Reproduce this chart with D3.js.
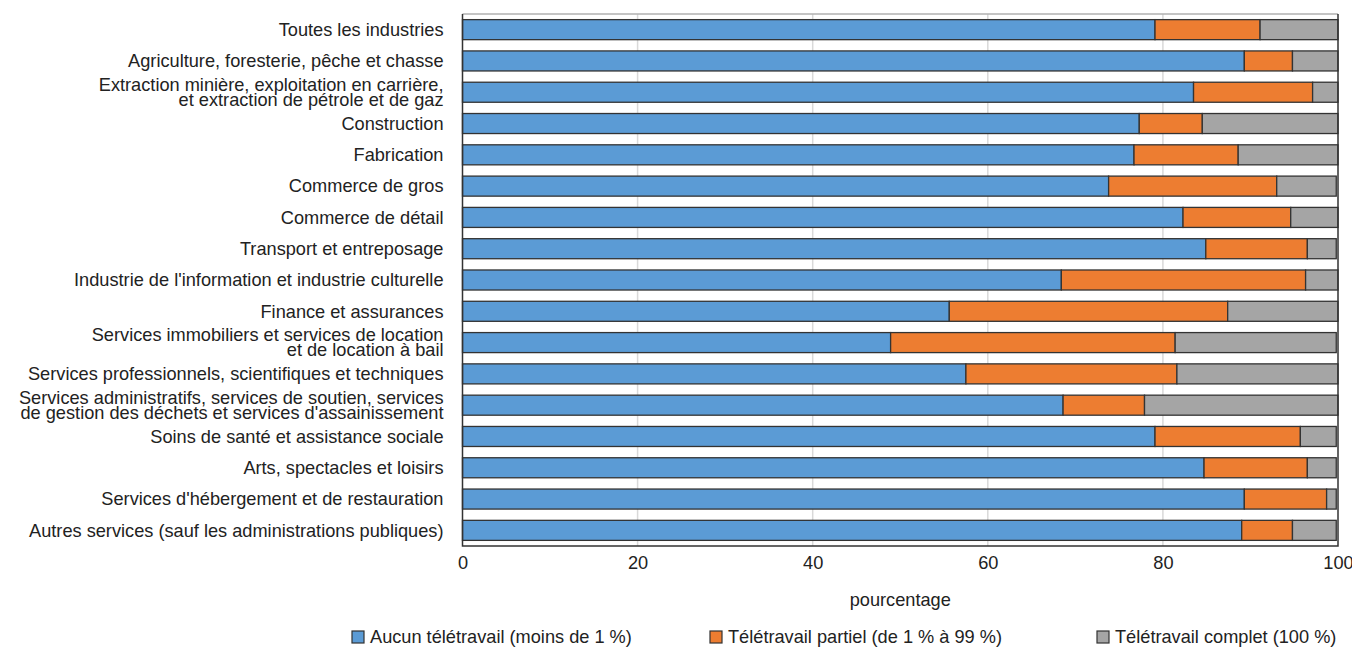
<!DOCTYPE html>
<html>
<head>
<meta charset="utf-8">
<script src="https://cdn.jsdelivr.net/npm/d3@7/dist/d3.min.js"></script>
<style>
  html, body { margin: 0; padding: 0; background: #fff; }
  svg { display: block; }
  text { font-family: "Liberation Sans Narrow", "Arial Narrow", "Liberation Sans", sans-serif; fill: #222; }
</style>
</head>
<body>
<svg id="chart" width="1352" height="648"></svg>
<script>
// ---- Data ----
const categories = [
  "Toutes les industries",
  "Agriculture, foresterie, pêche et chasse",
  "Extraction minière, exploitation en carrière,\net extraction de pétrole et de gaz",
  "Construction",
  "Fabrication",
  "Commerce de gros",
  "Commerce de détail",
  "Transport et entreposage",
  "Industrie de l'information et industrie culturelle",
  "Finance et assurances",
  "Services immobiliers et services de location\net de location à bail",
  "Services professionnels, scientifiques et techniques",
  "Services administratifs, services de soutien, services\nde gestion des déchets et services d'assainissement",
  "Soins de santé et assistance sociale",
  "Arts, spectacles et loisirs",
  "Services d'hébergement et de restauration",
  "Autres services (sauf les administrations publiques)"
];
const aucun   = [79.1, 89.3, 83.5, 77.3, 76.7, 73.8, 82.3, 84.9, 68.4, 55.6, 48.9, 57.5, 68.6, 79.1, 84.7, 89.3, 89.0];
const partiel = [12.0,  5.5, 13.6,  7.2, 11.9, 19.2, 12.3, 11.6, 27.9, 31.8, 32.5, 24.1,  9.3, 16.6, 11.8,  9.4,  5.8];
const complet = [ 8.9,  5.2,  2.9, 15.5, 11.4,  6.8,  5.4,  3.3,  3.7, 12.6, 18.4, 18.4, 22.1,  4.1,  3.3,  1.1,  5.0];
const seriesNames = ["Aucun télétravail (moins de 1 %)", "Télétravail partiel (de 1 % à 99 %)", "Télétravail complet (100 %)"];
const seriesColors = ["#5B9BD5", "#ED7D31", "#A5A5A5"];
const xTicks = [0, 20, 40, 60, 80, 100];
const xTitle = "pourcentage";

// ---- Layout ----
const FS = 18.2;
const FONT = '"Liberation Sans Narrow", "Arial Narrow", "Liberation Sans", sans-serif';
const svg = d3.select("#chart");
const L = 462.5, R = 1338, T = 14, B = 546;

const x = d3.scaleLinear().domain([0, 100]).range([L, R]);
const y = d3.scaleBand().domain(categories).range([T, B]).paddingInner(0.36).paddingOuter(0.18);

// gridlines
svg.append("g").selectAll("line").data(xTicks.slice(1, -1)).join("line")
  .attr("x1", d => x(d)).attr("x2", d => x(d))
  .attr("y1", T).attr("y2", B)
  .attr("stroke", "#d9d9d9").attr("stroke-width", 1.5);

// stacked data
const rows = categories.map((c, i) => ({ cat: c, vals: [aucun[i], partiel[i], complet[i]] }));
const segs = [];
rows.forEach(r => {
  let acc = 0;
  r.vals.forEach((v, k) => { segs.push({ cat: r.cat, k, x0: acc, x1: acc + v }); acc += v; });
});

svg.append("g").selectAll("rect").data(segs).join("rect")
  .attr("x", d => x(d.x0))
  .attr("y", d => y(d.cat))
  .attr("width", d => x(d.x1) - x(d.x0))
  .attr("height", y.bandwidth())
  .attr("fill", d => seriesColors[d.k])
  .attr("stroke", "#333")
  .attr("stroke-width", 1.3);

// frame
svg.append("line").attr("x1", L).attr("x2", R).attr("y1", T).attr("y2", T).attr("stroke", "#b0b0b0").attr("stroke-width", 1.3);
svg.append("path").attr("d", `M${L},${T}V${B}H${R}V${T}`).attr("fill", "none").attr("stroke", "#333").attr("stroke-width", 1.5);

// category labels
const lab = svg.append("g").selectAll("text").data(categories).join("text")
  .attr("text-anchor", "end")
  .attr("font-size", FS);
lab.each(function(d) {
  const lines = d.split("\n");
  const cy = y(d) + y.bandwidth() / 2;
  const lh = 15;
  const t = d3.select(this);
  lines.forEach((ln, j) => {
    t.append("tspan").attr("x", L - 19)
      .attr("y", cy + (j - (lines.length - 1) / 2) * lh)
      .attr("dy", "0.35em").text(ln);
  });
});

// x axis tick labels
const xAxis = d3.axisBottom(x).tickValues(xTicks).tickSize(0).tickPadding(0);
const gx = svg.append("g").attr("transform", `translate(0,${B + 10})`).call(xAxis);
gx.select(".domain").remove();
gx.selectAll("text").attr("font-size", FS).attr("dy", "0.71em")
  .style("font-family", FONT).attr("fill", "#222");

svg.append("text").attr("x", (L + R) / 2).attr("y", 600).attr("dy", "0.35em")
  .attr("text-anchor", "middle").attr("font-size", FS).text(xTitle);

// legend
const legX = [352, 710, 1097];
const lg = svg.append("g").selectAll("g").data(seriesNames).join("g")
  .attr("transform", (d, i) => `translate(${legX[i]},637)`);
lg.append("rect").attr("x", 0).attr("y", -6).attr("width", 12).attr("height", 12)
  .attr("fill", (d, i) => seriesColors[i]).attr("stroke", "#333").attr("stroke-width", 1.2);
lg.append("text").attr("x", 18).attr("y", 0).attr("dy", "0.35em").attr("font-size", FS).text(d => d);
</script>
</body>
</html>
